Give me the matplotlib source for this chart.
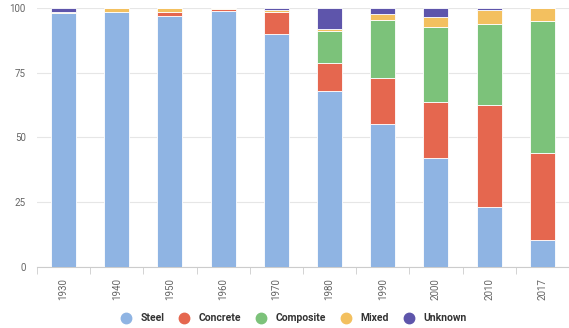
import matplotlib.pyplot as plt
import numpy as np
from matplotlib.lines import Line2D

plt.rcParams["font.family"] = ["Roboto", "DejaVu Sans"]

years = ["1930", "1940", "1950", "1960", "1970", "1980", "1990", "2000", "2010", "2017"]
steel = [98.0, 98.5, 97.0, 98.7, 90.0, 67.8, 55.0, 42.0, 23.2, 10.5]
concrete = [0.0, 0.0, 1.5, 1.0, 8.5, 11.0, 18.0, 21.8, 39.5, 33.5]
composite = [0.0, 0.0, 0.0, 0.0, 0.0, 12.3, 22.5, 29.0, 30.9, 51.0]
mixed = [0.5, 1.5, 1.5, 0.3, 0.5, 0.9, 2.3, 3.8, 5.5, 5.0]
unknown = [1.5, 0.0, 0.0, 0.0, 1.0, 8.0, 2.2, 3.4, 0.9, 0.0]

series = [
    ("Steel", steel, "#8fb4e3"),
    ("Concrete", concrete, "#e5674f"),
    ("Composite", composite, "#7cc27a"),
    ("Mixed", mixed, "#f3c05f"),
    ("Unknown", unknown, "#5e55ab"),
]

fig = plt.figure(figsize=(5.69, 3.28), dpi=100)
ax = fig.add_axes([0.065, 0.186, 0.935, 0.79])

x = np.arange(len(years))
bottom = np.zeros(len(years))
for name, vals, color in series:
    vals = np.array(vals)
    ax.bar(x, vals, bottom=bottom, width=0.47, color=color,
           edgecolor="white", linewidth=0.6, zorder=3)
    bottom += vals

ax.set_xlim(-0.5, len(years) - 0.5)
ax.set_ylim(0, 100)
ax.set_yticks([0, 25, 50, 75, 100])
ax.grid(axis="y", color="#e6e6e6", linewidth=0.8, zorder=0)

ax.set_xticks(x)
ax.set_xticklabels(years, rotation=90, fontsize=7, color="#666666")
ax.set_xticks(np.arange(len(years) + 1) - 0.5, minor=True)
ax.tick_params(axis="x", which="major", length=0, pad=8)
ax.tick_params(axis="x", which="minor", length=5, color="#cccccc")
ax.tick_params(axis="y", length=0, labelsize=7, labelcolor="#666666", pad=8)

for side in ("top", "right", "left"):
    ax.spines[side].set_visible(False)
ax.spines["bottom"].set_color("#cccccc")

# legend row under the x labels
handles = [Line2D([], [], marker="o", linestyle="", markersize=7.5,
                  markerfacecolor=c, markeredgecolor=c, label=n)
           for n, _, c in series]
leg = fig.legend(handles=handles, loc="center", bbox_to_anchor=(0.515, 0.03),
                 ncol=5, frameon=False, handletextpad=0.8,
                 columnspacing=1.3, handlelength=1.2,
                 prop={"weight": "bold", "size": 7.5})
for t in leg.get_texts():
    t.set_color("#333333")

fig.savefig("out.png", dpi=100)
